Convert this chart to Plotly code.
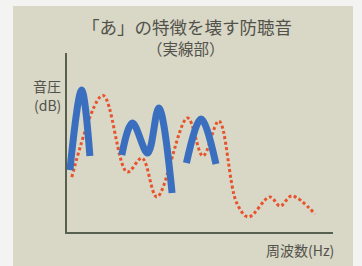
import plotly.graph_objects as go

# --- data (frequency units 0-100, sound pressure units 0-100) ---
blue_seg1_x = [1.1, 5.5, 8.6]
blue_seg1_y = [34.6, 79.3, 42.5]
blue_seg2_x = [20.6, 24.6, 30.3, 34.5, 39.5]
blue_seg2_y = [43.0, 60.9, 44.1, 69.3, 21.8]
blue_seg3_x = [44.9, 50.4, 56.0]
blue_seg3_y = [38.5, 63.1, 38.0]

red_x = [1.8, 13.5, 22.6, 28.2, 33.8, 45.3, 51.1, 57.1, 63.8, 68.2, 76.3, 80.1, 84.5, 93.2]
red_y = [30.7, 76.3, 33.5, 41.3, 19.6, 63.7, 42.5, 62.0, 16.2, 8.4, 19.6, 14.5, 20.1, 10.1]

title = "「あ」の特徴を壊す防聴音"
subtitle = "（実線部）"
ylabel_lines = ["音圧", "(dB)"]
xlabel = "周波数(Hz)"

W, H = 362, 266
BLUE = "#3a6fc0"
RED = "#e8532d"
AXIS = "#58604f"
TEXT = "#52524c"
OUTER = "#f3f3f1"
FONT = "Noto Sans CJK JP"

fig = go.Figure()
fig.add_trace(go.Scatter(x=red_x, y=red_y, mode="lines", hoverinfo="skip",
                         line=dict(color=RED, width=3, dash="3px,2.5px", shape="spline")))
for xs, ys in [(blue_seg1_x, blue_seg1_y), (blue_seg2_x, blue_seg2_y), (blue_seg3_x, blue_seg3_y)]:
    fig.add_trace(go.Scatter(x=xs, y=ys, mode="lines", hoverinfo="skip",
                             line=dict(color=BLUE, width=7, shape="spline")))

x0p, x1p = 67, 333
ytop, ybot = 53, 232
fig.update_layout(
    width=W, height=H,
    margin=dict(l=0, r=0, t=0, b=0),
    paper_bgcolor=OUTER,
    plot_bgcolor="rgba(0,0,0,0)",
    showlegend=False,
    xaxis=dict(domain=[x0p / W, x1p / W], range=[0, 100], showgrid=False, zeroline=False,
               showticklabels=False, ticks="", showline=True, linecolor=AXIS, linewidth=2),
    yaxis=dict(domain=[(H - ybot) / H, (H - ytop) / H], range=[0, 100], showgrid=False,
               zeroline=False, showticklabels=False, ticks="", showline=True,
               linecolor=AXIS, linewidth=2),
    shapes=[dict(type="rect", xref="paper", yref="paper", x0=13 / W, x1=353 / W,
                 y0=0, y1=(H - 6) / H, fillcolor="#d9d7c5", line=dict(width=0),
                 layer="below")],
    annotations=[
        dict(text=title, xref="paper", yref="paper", x=187 / W, y=(H - 26) / H,
             showarrow=False, font=dict(family=FONT, size=17.5, color=TEXT),
             xanchor="center", yanchor="middle"),
        dict(text=subtitle, xref="paper", yref="paper", x=186 / W, y=(H - 48) / H,
             showarrow=False, font=dict(family=FONT, size=15.5, color=TEXT),
             xanchor="center", yanchor="middle"),
        dict(text=ylabel_lines[0], xref="paper", yref="paper", x=63 / W, y=(H - 86) / H,
             showarrow=False, font=dict(family=FONT, size=14, color=TEXT),
             xanchor="right", yanchor="middle"),
        dict(text=ylabel_lines[1], xref="paper", yref="paper", x=63 / W, y=(H - 105) / H,
             showarrow=False, font=dict(family=FONT, size=14, color=TEXT),
             xanchor="right", yanchor="middle"),
        dict(text=xlabel, xref="paper", yref="paper", x=336 / W, y=(H - 250) / H,
             showarrow=False, font=dict(family=FONT, size=14, color=TEXT),
             xanchor="right", yanchor="middle"),
    ],
)
fig.write_html(
    "out.html",
    config={"displayModeBar": False, "staticPlot": True},
    post_script=f"document.body.style.margin='0';document.body.style.background='{OUTER}';",
)
